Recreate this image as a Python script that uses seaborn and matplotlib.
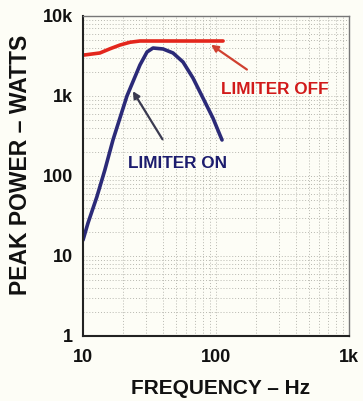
import matplotlib
matplotlib.use("Agg")
import matplotlib.pyplot as plt
import seaborn as sns
import pandas as pd
import numpy as np
from matplotlib.ticker import FixedLocator, NullFormatter, LogLocator

sns.set_style("white")
plt.rcParams['font.family'] = ['Liberation Sans', 'DejaVu Sans']

# Data
on_freq = [10, 10.9, 12.7, 14.6, 16.8, 21.4, 26.8, 30.3, 33.6, 40, 47.5, 56.5, 67.1, 79.8, 94.8, 107, 111]
on_power = [15.8, 25.8, 54.6, 119, 282, 1000, 2440, 3550, 3980, 3870, 3450, 2660, 1680, 944, 531, 326, 282]
off_freq = [10, 13.4, 16, 19, 22.6, 26.8, 60, 113]
off_power = [3240, 3450, 3900, 4340, 4700, 4870, 4870, 4870]

x_ticks = [10, 100, 1000]
x_labels = ["10", "100", "1k"]
y_ticks = [1, 10, 100, 1000, 10000]
y_labels = ["1", "10", "100", "1k", "10k"]

df = pd.concat([
    pd.DataFrame({"freq": off_freq, "power": off_power, "series": "LIMITER OFF"}),
    pd.DataFrame({"freq": on_freq, "power": on_power, "series": "LIMITER ON"}),
])

bg = "#fdfdf6"
fig = plt.figure(figsize=(3.63, 4.01), dpi=100, facecolor=bg)
ax = fig.add_axes([83/363, 1-336/401, (349-83)/363, (336-16)/401])
ax.set_facecolor(bg)

red = "#e3261c"
navy = "#2b2a78"
sns.lineplot(data=df, x="freq", y="power", hue="series",
             palette={"LIMITER OFF": red, "LIMITER ON": navy},
             linewidth=2.6, ax=ax, legend=False, sort=False, estimator=None)
for ln in ax.get_lines():
    ln.set_solid_joinstyle("round")
    ln.set_solid_capstyle("round")

ax.set_xscale("log")
ax.set_yscale("log")
ax.set_xlim(10, 1000)
ax.set_ylim(1, 10000)

ax.xaxis.set_major_locator(FixedLocator(x_ticks))
ax.set_xticklabels(x_labels)
ax.yaxis.set_major_locator(FixedLocator(y_ticks))
ax.set_yticklabels(y_labels)
ax.xaxis.set_minor_locator(LogLocator(base=10, subs=np.arange(2, 10)))
ax.yaxis.set_minor_locator(LogLocator(base=10, subs=np.arange(2, 10)))
ax.xaxis.set_minor_formatter(NullFormatter())
ax.yaxis.set_minor_formatter(NullFormatter())

ax.grid(True, which="both", color="#b8b8b0", linestyle=(0, (1, 2)), linewidth=0.7)
ax.tick_params(axis="both", which="both", length=0)
ax.tick_params(axis="x", pad=9)
ax.tick_params(axis="y", pad=7)
for lab in ax.get_xticklabels() + ax.get_yticklabels():
    lab.set_fontweight("bold")
    lab.set_fontsize(13)
    lab.set_color("#111111")

for s in ["left", "bottom"]:
    ax.spines[s].set_color("#222222")
    ax.spines[s].set_linewidth(1.5)
for s in ["top", "right"]:
    ax.spines[s].set_color("#777777")
    ax.spines[s].set_linewidth(1.0)

ax.set_xlabel("FREQUENCY – Hz", fontsize=15, fontweight="bold", color="#111111")
ax.set_ylabel("PEAK POWER – WATTS", fontsize=16.5, fontweight="bold", color="#111111")
ax.xaxis.set_label_coords((221 - 83) / 266, -(389 - 336) / 320)
ax.yaxis.set_label_coords(-(83 - 21) / 266, (336 - 165) / 320)
ax.xaxis.label.set_va("center")
ax.yaxis.label.set_va("center")

ax.annotate("LIMITER OFF", xy=(90, 4470), xytext=(278, 1223),
            color="#d11a1a", fontsize=12.3, fontweight="bold", ha="center", va="center",
            arrowprops=dict(arrowstyle="-|>", color="#d04030", lw=1.6, shrinkA=11, shrinkB=1,
                            mutation_scale=10))
ax.annotate("LIMITER ON", xy=(23.4, 1190), xytext=(51, 145),
            color="#1c1c6e", fontsize=12.3, fontweight="bold", ha="center", va="center",
            arrowprops=dict(arrowstyle="-|>", color="#3a3a50", lw=1.6, shrinkA=11, shrinkB=1,
                            mutation_scale=10))

fig.savefig("out.png", dpi=100, facecolor=bg)
